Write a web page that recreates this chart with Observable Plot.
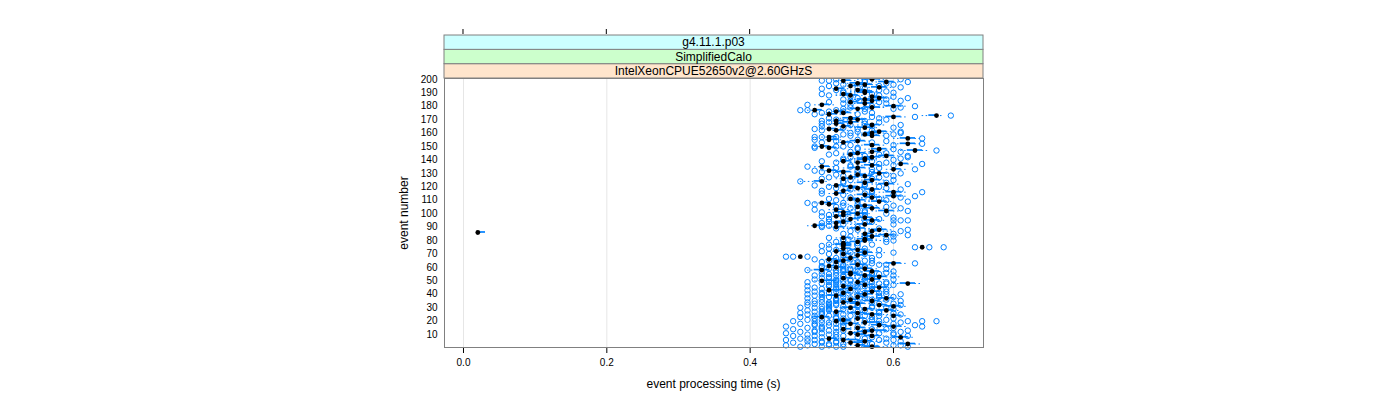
<!DOCTYPE html>
<html><head><meta charset="utf-8">
<script src="https://cdn.jsdelivr.net/npm/d3@7"></script>
<script src="https://cdn.jsdelivr.net/npm/@observablehq/plot@0.6"></script>
<style>body{margin:0;background:#fff} svg{display:block}</style>
</head><body><div id="chart"></div>
<script>
// event number 1..200 (index 0 = event 1)
const medians = [
0.57,0.55,0.62,0.54,0.56,0.53,0.51,0.61,0.57,0.55,
0.54,0.56,0.57,0.53,0.55,0.60,0.58,0.54,0.56,0.52,
0.53,0.55,0.50,0.60,0.57,0.55,0.52,0.59,0.56,0.54,
0.60,0.58,0.55,0.53,0.57,0.54,0.59,0.55,0.52,0.56,
0.53,0.57,0.51,0.54,0.58,0.53,0.56,0.62,0.55,0.50,
0.57,0.53,0.58,0.56,0.54,0.54,0.57,0.50,0.56,0.52,
0.51,0.55,0.60,0.52,0.53,0.51,0.54,0.47,0.55,0.53,
0.56,0.52,0.55,0.53,0.64,0.53,0.53,0.53,0.55,0.56,
0.56,0.53,0.57,0.59,0.56,0.02,0.57,0.58,0.55,0.52,
0.49,0.56,0.52,0.53,0.57,0.54,0.56,0.52,0.53,0.55,
0.53,0.59,0.52,0.57,0.55,0.56,0.51,0.50,0.58,0.55,
0.54,0.57,0.60,0.56,0.52,0.60,0.53,0.57,0.55,0.54,
0.52,0.59,0.56,0.50,0.57,0.53,0.54,0.56,0.55,0.58,
0.53,0.51,0.60,0.55,0.50,0.57,0.61,0.55,0.53,0.56,
0.56,0.57,0.59,0.54,0.55,0.57,0.63,0.58,0.51,0.50,
0.57,0.62,0.53,0.55,0.51,0.62,0.51,0.57,0.56,0.57,
0.58,0.52,0.51,0.56,0.53,0.57,0.52,0.54,0.52,0.55,
0.54,0.60,0.66,0.51,0.53,0.52,0.49,0.55,0.57,0.60,
0.50,0.56,0.54,0.57,0.56,0.58,0.57,0.54,0.53,0.56,
0.56,0.55,0.52,0.58,0.54,0.56,0.55,0.59,0.53,0.57];
const boxLow = [
0.56,0.55,0.61,0.54,0.55,0.53,0.51,0.60,0.56,0.55,
0.54,0.55,0.56,0.53,0.55,0.59,0.57,0.53,0.56,0.52,
0.52,0.55,0.49,0.60,0.56,0.54,0.52,0.58,0.56,0.53,
0.59,0.58,0.54,0.53,0.56,0.54,0.58,0.55,0.51,0.55,
0.53,0.56,0.51,0.53,0.57,0.53,0.55,0.61,0.55,0.50,
0.56,0.53,0.57,0.55,0.54,0.53,0.56,0.49,0.55,0.52,
0.51,0.54,0.59,0.52,0.52,0.51,0.53,0.47,0.55,0.53,
0.55,0.52,0.54,0.53,0.64,0.53,0.52,0.53,0.54,0.56,
0.55,0.53,0.56,0.58,0.56,0.02,0.57,0.57,0.54,0.52,
0.49,0.55,0.52,0.52,0.56,0.54,0.55,0.52,0.53,0.54,
0.52,0.58,0.52,0.56,0.55,0.55,0.51,0.50,0.57,0.54,
0.54,0.56,0.59,0.55,0.52,0.59,0.53,0.56,0.54,0.53,
0.52,0.58,0.55,0.49,0.56,0.53,0.54,0.55,0.55,0.57,
0.52,0.51,0.60,0.54,0.50,0.56,0.61,0.55,0.53,0.55,
0.55,0.56,0.58,0.54,0.54,0.57,0.62,0.57,0.51,0.50,
0.56,0.61,0.53,0.54,0.51,0.61,0.51,0.56,0.56,0.56,
0.57,0.52,0.51,0.55,0.53,0.56,0.52,0.53,0.52,0.54,
0.53,0.59,0.65,0.51,0.53,0.52,0.49,0.54,0.56,0.59,
0.50,0.55,0.54,0.56,0.55,0.57,0.57,0.53,0.53,0.55,
0.55,0.55,0.52,0.57,0.54,0.55,0.54,0.58,0.53,0.56];
const boxHigh = [
0.58,0.56,0.63,0.56,0.57,0.55,0.52,0.62,0.58,0.56,
0.55,0.57,0.59,0.54,0.56,0.61,0.59,0.55,0.58,0.54,
0.54,0.56,0.51,0.61,0.58,0.56,0.53,0.60,0.57,0.55,
0.61,0.59,0.56,0.55,0.58,0.55,0.60,0.56,0.53,0.57,
0.54,0.58,0.53,0.55,0.59,0.54,0.57,0.63,0.56,0.52,
0.58,0.54,0.59,0.57,0.55,0.55,0.58,0.51,0.57,0.53,
0.52,0.56,0.61,0.53,0.54,0.52,0.55,0.47,0.56,0.54,
0.57,0.53,0.56,0.54,0.64,0.54,0.54,0.54,0.56,0.57,
0.57,0.54,0.58,0.60,0.57,0.03,0.58,0.59,0.56,0.53,
0.50,0.57,0.53,0.54,0.58,0.55,0.57,0.53,0.54,0.56,
0.54,0.60,0.53,0.58,0.56,0.57,0.52,0.51,0.59,0.56,
0.55,0.58,0.61,0.57,0.53,0.61,0.54,0.58,0.56,0.55,
0.53,0.60,0.57,0.50,0.58,0.54,0.55,0.57,0.56,0.59,
0.54,0.52,0.61,0.56,0.51,0.58,0.62,0.56,0.54,0.57,
0.57,0.58,0.60,0.55,0.56,0.58,0.64,0.59,0.52,0.51,
0.58,0.63,0.54,0.56,0.52,0.63,0.52,0.58,0.57,0.58,
0.59,0.53,0.52,0.57,0.54,0.58,0.53,0.55,0.53,0.56,
0.55,0.61,0.66,0.52,0.54,0.53,0.50,0.56,0.58,0.61,
0.51,0.57,0.55,0.58,0.57,0.59,0.58,0.55,0.54,0.57,
0.57,0.56,0.53,0.59,0.55,0.57,0.56,0.60,0.54,0.58];
const whiskerLow = [
0.55,0.54,0.60,0.53,0.54,0.52,0.50,0.59,0.55,0.54,
0.53,0.54,0.55,0.52,0.54,0.58,0.56,0.52,0.55,0.51,
0.51,0.54,0.48,0.59,0.55,0.53,0.51,0.57,0.55,0.52,
0.58,0.57,0.53,0.52,0.55,0.53,0.57,0.54,0.50,0.54,
0.52,0.55,0.50,0.52,0.56,0.52,0.54,0.60,0.54,0.49,
0.55,0.52,0.56,0.54,0.53,0.52,0.55,0.48,0.54,0.51,
0.50,0.53,0.58,0.51,0.51,0.50,0.52,0.47,0.54,0.52,
0.54,0.51,0.53,0.52,0.64,0.52,0.51,0.52,0.53,0.55,
0.54,0.52,0.55,0.57,0.55,0.02,0.56,0.56,0.53,0.51,
0.48,0.54,0.51,0.51,0.55,0.53,0.54,0.51,0.52,0.53,
0.51,0.57,0.51,0.55,0.54,0.54,0.50,0.49,0.56,0.53,
0.53,0.55,0.58,0.54,0.51,0.58,0.52,0.55,0.53,0.52,
0.51,0.57,0.54,0.47,0.55,0.52,0.53,0.54,0.54,0.56,
0.51,0.50,0.59,0.53,0.49,0.55,0.60,0.54,0.52,0.54,
0.54,0.55,0.57,0.53,0.53,0.56,0.61,0.56,0.50,0.49,
0.55,0.60,0.52,0.53,0.50,0.60,0.50,0.55,0.55,0.55,
0.56,0.51,0.50,0.54,0.52,0.55,0.51,0.52,0.51,0.53,
0.52,0.58,0.64,0.50,0.52,0.51,0.48,0.53,0.55,0.58,
0.49,0.54,0.53,0.55,0.54,0.56,0.56,0.52,0.52,0.54,
0.54,0.54,0.51,0.56,0.53,0.54,0.53,0.57,0.52,0.55];
const whiskerHigh = [
0.60,0.58,0.64,0.57,0.59,0.56,0.54,0.63,0.59,0.58,
0.56,0.59,0.60,0.56,0.58,0.62,0.61,0.57,0.59,0.55,
0.55,0.58,0.52,0.62,0.60,0.57,0.55,0.61,0.58,0.57,
0.62,0.61,0.57,0.56,0.60,0.57,0.61,0.58,0.54,0.58,
0.56,0.59,0.54,0.57,0.60,0.56,0.59,0.64,0.58,0.53,
0.59,0.56,0.61,0.58,0.57,0.56,0.60,0.52,0.58,0.55,
0.54,0.57,0.62,0.55,0.55,0.54,0.56,0.47,0.57,0.56,
0.59,0.54,0.57,0.55,0.64,0.55,0.55,0.55,0.57,0.59,
0.58,0.55,0.59,0.61,0.59,0.03,0.60,0.60,0.57,0.55,
0.51,0.58,0.55,0.55,0.59,0.57,0.58,0.54,0.56,0.57,
0.55,0.61,0.55,0.59,0.58,0.58,0.54,0.52,0.60,0.57,
0.57,0.59,0.62,0.58,0.54,0.62,0.56,0.59,0.57,0.56,
0.54,0.61,0.58,0.51,0.59,0.55,0.57,0.58,0.57,0.60,
0.55,0.53,0.62,0.57,0.52,0.59,0.63,0.57,0.55,0.58,
0.58,0.60,0.61,0.56,0.57,0.59,0.65,0.60,0.53,0.52,
0.59,0.64,0.55,0.57,0.53,0.64,0.53,0.59,0.58,0.59,
0.60,0.55,0.53,0.58,0.55,0.59,0.54,0.56,0.54,0.57,
0.56,0.62,0.67,0.53,0.55,0.54,0.50,0.57,0.59,0.62,
0.52,0.58,0.56,0.59,0.58,0.60,0.59,0.56,0.55,0.58,
0.58,0.57,0.54,0.60,0.56,0.58,0.57,0.61,0.55,0.59];
const outliers = [
[0.47,0.50,0.52,0.53,0.62],[0.45,0.48,0.51,0.60,0.61],[0.49,0.51,0.53,0.56,0.57],[0.46,0.50,0.52,0.59],[0.48,0.50,0.52,0.61],
[0.45,0.49,0.58,0.60],[0.47,0.48,0.56,0.59],[0.50,0.52,0.55,0.57],[0.46,0.49,0.53,0.62],[0.48,0.51,0.52,0.60],
[0.45,0.50,0.58,0.60],[0.47,0.49,0.52,0.61],[0.49,0.51,0.53,0.62],[0.46,0.50,0.57,0.59],[0.48,0.50,0.52,0.60],
[0.45,0.50,0.53,0.55,0.64],[0.49,0.51,0.53,0.63],[0.47,0.49,0.52,0.58,0.60],[0.50,0.51,0.53,0.61],[0.46,0.49,0.56,0.58,0.62,0.64,0.66],
[0.48,0.50,0.57,0.59],[0.49,0.52,0.53,0.60],[0.47,0.52,0.55,0.57],[0.49,0.51,0.54,0.56,0.58],[0.48,0.50,0.53,0.55,0.61],
[0.47,0.50,0.52,0.58,0.60],[0.49,0.50,0.55,0.58],[0.48,0.51,0.54,0.56],[0.50,0.51,0.53,0.60],[0.47,0.49,0.51,0.57,0.59],
[0.50,0.51,0.53,0.55,0.57],[0.48,0.51,0.52,0.55,0.61],[0.49,0.51,0.52,0.58,0.60],[0.48,0.50,0.51,0.57],[0.49,0.52,0.53,0.55,0.61],
[0.50,0.52,0.57,0.59],[0.48,0.52,0.54,0.56],[0.50,0.51,0.53,0.58,0.60],[0.49,0.55,0.56,0.58],[0.48,0.50,0.53,0.59,0.61],
[0.50,0.51,0.56,0.58],[0.49,0.52,0.54,0.59],[0.48,0.53,0.55,0.57],[0.50,0.52,0.57,0.59],[0.49,0.52,0.54,0.55],
[0.48,0.51,0.56,0.57],[0.51,0.52,0.54,0.60],[0.50,0.53,0.55,0.58,0.59],[0.48,0.51,0.52,0.57,0.59],[0.52,0.53,0.54,0.56],
[0.49,0.52,0.54,0.60],[0.50,0.51,0.56,0.57],[0.51,0.53,0.55,0.56],[0.49,0.52,0.53,0.60],[0.50,0.51,0.57,0.58],
[0.52,0.57,0.59],[0.50,0.53,0.55,0.60],[0.48,0.52,0.53,0.54],[0.51,0.53,0.54,0.59],[0.50,0.55,0.56],
[0.50,0.53,0.56],[0.52,0.53,0.58,0.59],[0.55,0.57,0.63],[0.50,0.55],[0.51,0.56,0.57],
[0.49,0.54],[0.52,0.57],[0.45,0.46,0.48],[0.53,0.58],[0.51,0.56],
[0.53,0.54,0.60],[0.50,0.56],[0.52,0.58],[0.51,0.56],[0.63,0.65,0.67],
[0.50,0.55],[0.51,0.57],[0.55],[0.52,0.59],[0.53,0.60],
[0.53,0.59],[0.51,0.56],[0.54,0.60],[0.56,0.62],[0.53,0.60],
[],[0.54,0.61],[0.55,0.62],[0.52,0.58],[0.50,0.55],
[0.50,0.51],[0.53,0.60],[0.50,0.56],[0.51,0.57],[0.60,0.61,0.62],
[0.51,0.58],[0.53,0.60],[0.50,0.55],[0.51,0.56],[0.52,0.59],
[0.50,0.56],[0.56,0.62],[0.49,0.55],[0.54,0.61],[0.52,0.59],
[0.53,0.60],[0.49,0.55],[0.48,0.53],[0.55,0.62],[0.52,0.59],
[0.51,0.58],[0.54,0.61],[0.57,0.63],[0.53,0.60],[0.50,0.56],
[0.57,0.64],[0.50,0.57],[0.54,0.61],[0.52,0.59],[0.51,0.58],
[0.49,0.56],[0.56,0.62],[0.53,0.59],[0.47,0.53],[0.54,0.60],
[0.50,0.57],[0.51,0.58],[0.53,0.60],[0.52,0.59],[0.55,0.61],
[0.50,0.57],[0.49,0.55],[0.57,0.63],[0.52,0.58],[0.48,0.54],
[0.54,0.60],[0.58,0.64],[0.52,0.59],[0.50,0.57],[0.53,0.60],
[0.53,0.61],[0.54,0.62],[0.56,0.62],[0.51,0.58],[0.52,0.59],
[0.54,0.61],[0.66],[0.55,0.60],[0.49,0.55],[0.49,0.52,0.53],
[0.54,0.60],[0.64],[0.50,0.57],[0.52,0.59],[0.49,0.55],
[0.64],[0.49,0.50,0.52],[0.54,0.59],[0.53,0.60],[0.54,0.61],
[0.55,0.61],[0.50,0.57],[0.49,0.55],[0.53,0.60],[0.50,0.57],
[0.54,0.61],[0.50,0.56],[0.51,0.58],[0.50,0.56],[0.52,0.59],
[0.51,0.58],[0.57,0.63],[0.68],[0.49,0.55],[0.50,0.57],
[0.51,0.53,0.56],[0.47,0.48,0.52],[0.53,0.56,0.60],[0.54,0.61],[0.57,0.63],
[0.48,0.54],[0.53,0.59],[0.51,0.58],[0.54,0.61],[0.53,0.59],
[0.55,0.62],[0.54,0.60],[0.51,0.58],[0.50,0.57],[0.53,0.60],
[0.53,0.59],[0.52,0.58],[0.50,0.56],[0.55,0.61],[0.51,0.58],
[0.53,0.60],[0.52,0.59],[0.56,0.62],[0.50,0.51,0.56],[0.52,0.61]];
const xTicks = [0.0, 0.2, 0.4, 0.6];
const yTicks = [10,20,30,40,50,60,70,80,90,100,110,120,130,140,150,160,170,180,190,200];
const strips = [
  {label: "IntelXeonCPUE52650v2@2.60GHzS", fill: "#ffe5cc"},
  {label: "SimplifiedCalo", fill: "#ccffcc"},
  {label: "g4.11.1.p03", fill: "#ccffff"}
];
const xTitle = "event processing time (s)";
const yTitle = "event number";

const rows = medians.map((m, i) => ({event: i + 1, median: m, q1: boxLow[i], q3: boxHigh[i], wlo: whiskerLow[i], whi: whiskerHigh[i]}));
const outPts = outliers.flatMap((list, i) => list.map(v => ({event: i + 1, value: v})));
const blue = "#0080ff";
const font = "'Liberation Sans', Arial, Helvetica, sans-serif";

const plot = Plot.plot({
  width: 1400, height: 400,
  marginLeft: 444, marginRight: 417, marginTop: 78, marginBottom: 53,
  style: {fontFamily: font, fontSize: "10px", background: "white", color: "black"},
  x: {domain: [-0.0265, 0.7256], label: null},
  y: {domain: [0.4, 200.6], label: null},
  marks: [
    Plot.ruleX(xTicks, {stroke: "#e6e6e6"}),
    Plot.ruleY(rows, {y: "event", x1: "wlo", x2: "q1", stroke: blue, strokeDasharray: "1.5,2.5"}),
    Plot.ruleY(rows, {y: "event", x1: "q3", x2: "whi", stroke: blue, strokeDasharray: "1.5,2.5"}),
    Plot.rect(rows, {x1: "q1", x2: "q3", y1: d => d.event - 0.25, y2: d => d.event + 0.25, stroke: blue, fill: "none"}),
    Plot.dot(outPts, {x: "value", y: "event", r: 2.7, stroke: blue, fill: "none", strokeWidth: 1}),
    Plot.dot(rows, {x: "median", y: "event", r: 2.4, fill: "black"}),
    Plot.axisX(xTicks, {anchor: "bottom", tickSize: 6, tickPadding: 5, tickFormat: d => d.toFixed(1), label: null}),
    Plot.axisY(yTicks, {anchor: "left", tickSize: 0, tickPadding: 7, label: null}),
    Plot.frame({stroke: "#808080"})
  ]
});

const svg = d3.select(plot);
const sx = plot.scale("x");
const [x0, x1] = sx.range;
const panelTop = 78, stripH = 14.33;
const g = svg.append("g");
strips.forEach((s, i) => {
  const y = panelTop - (i + 1) * stripH;
  g.append("rect").attr("x", x0).attr("y", y).attr("width", x1 - x0).attr("height", stripH)
    .attr("fill", s.fill).attr("stroke", "#808080");
  g.append("text").attr("x", (x0 + x1) / 2).attr("y", y + stripH / 2).attr("dy", "0.36em")
    .attr("text-anchor", "middle").attr("font-size", 12).attr("font-family", font).text(s.label);
});
const stripTop = panelTop - strips.length * stripH;
xTicks.forEach(t => {
  const px = sx.apply(t);
  g.append("line").attr("x1", px).attr("x2", px).attr("y1", stripTop - 1).attr("y2", stripTop - 6).attr("stroke", "black");
});
g.append("text").attr("x", (x0 + x1) / 2).attr("y", 384).attr("dy", "0.36em").attr("text-anchor", "middle")
  .attr("font-size", 12).attr("font-family", font).text(xTitle);
g.append("text").attr("transform", "translate(404,213) rotate(-90)").attr("dy", "0.36em").attr("text-anchor", "middle")
  .attr("font-size", 12).attr("font-family", font).text(yTitle);

document.getElementById("chart").appendChild(plot);
</script>
</body></html>
